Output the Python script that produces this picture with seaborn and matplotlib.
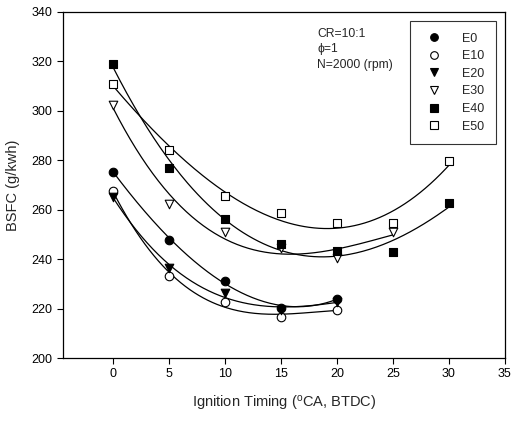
import numpy as np
import pandas as pd
import matplotlib
matplotlib.use("Agg")
import matplotlib.pyplot as plt
import seaborn as sns
from matplotlib.lines import Line2D

sns.set_theme(style="ticks")
plt.rcParams['font.family'] = ['Liberation Sans', 'DejaVu Sans']
plt.rcParams['mathtext.fontset'] = 'custom'
plt.rcParams['mathtext.rm'] = 'Liberation Sans'

series = ["E0", "E10", "E20", "E30", "E40", "E50"]
x_E0 = [0, 5, 10, 15, 20]
y_E0 = [275.4, 247.7, 231.3, 220.4, 224.0]
x_E10 = [0, 5, 10, 15, 20]
y_E10 = [267.4, 233.3, 222.5, 216.4, 219.6]
x_E20 = [0, 5, 10, 15, 20]
y_E20 = [265.0, 236.6, 226.2, 219.5, 222.8]
x_E30 = [0, 5, 10, 15, 20, 25]
y_E30 = [302.3, 262.3, 250.9, 244.5, 240.3, 251.1]
x_E40 = [0, 5, 10, 15, 20, 25, 30]
y_E40 = [318.9, 276.8, 256.1, 246.0, 243.2, 242.9, 262.9]
x_E50 = [0, 5, 10, 15, 20, 25, 30]
y_E50 = [310.9, 284.2, 265.4, 258.5, 254.8, 254.8, 279.7]

xs = [x_E0, x_E10, x_E20, x_E30, x_E40, x_E50]
ys = [y_E0, y_E10, y_E20, y_E30, y_E40, y_E50]
markers = ["o", "o", "v", "v", "s", "s"]
filled = [True, False, True, False, True, False]

fig = plt.figure(figsize=(5.12, 4.21), dpi=100)
ax = fig.add_axes([0.123, 0.1496, 0.863, 0.822])

handles = []
for name, xv, yv, m, f in zip(series, xs, ys, markers, filled):
    xv = np.array(xv, float)
    yv = np.array(yv, float)
    coef = np.polyfit(xv, yv, 3)
    xf = np.linspace(xv.min(), xv.max(), 200)
    yf = np.polyval(coef, xf)
    sns.lineplot(x=xf, y=yf, ax=ax, color="black", lw=0.9, zorder=2)
    fc = "black" if f else "white"
    sns.scatterplot(x=xv, y=yv, ax=ax, marker=m, s=38, facecolor=fc,
                    edgecolor="black", linewidth=0.8, zorder=3)
    handles.append(Line2D([], [], linestyle="none", marker=m, markersize=5.5,
                          markerfacecolor=fc, markeredgecolor="black",
                          markeredgewidth=0.8, label=name))

ax.set_xlim(-4.5, 35)
ax.set_ylim(200, 340)
ax.set_xticks([0, 5, 10, 15, 20, 25, 30, 35])
ax.set_yticks(np.arange(200, 341, 20))
ax.tick_params(direction="out", length=4, width=0.8, labelsize=9, colors="black")
for s in ax.spines.values():
    s.set_color("black")
    s.set_linewidth(0.9)

ax.set_xlabel("Ignition Timing ($\\rm ^{o}$CA, BTDC)", fontsize=10.5, labelpad=10)
ax.set_ylabel("BSFC (g/kwh)", fontsize=10.5, labelpad=8)

ax.text(0.575, 0.955, "CR=10:1\nϕ=1\nN=2000 (rpm)", transform=ax.transAxes,
        fontsize=8.7, va="top", ha="left", linespacing=1.4)

leg = ax.legend(handles=handles, loc="upper right", bbox_to_anchor=(0.98, 0.973),
                frameon=True, fancybox=False, fontsize=9, handletextpad=1.3,
                borderpad=0.9, labelspacing=0.45, handlelength=2.0,
                borderaxespad=0)
leg.get_frame().set_edgecolor("black")
leg.get_frame().set_linewidth(0.8)

fig.savefig("out.png", dpi=100)
